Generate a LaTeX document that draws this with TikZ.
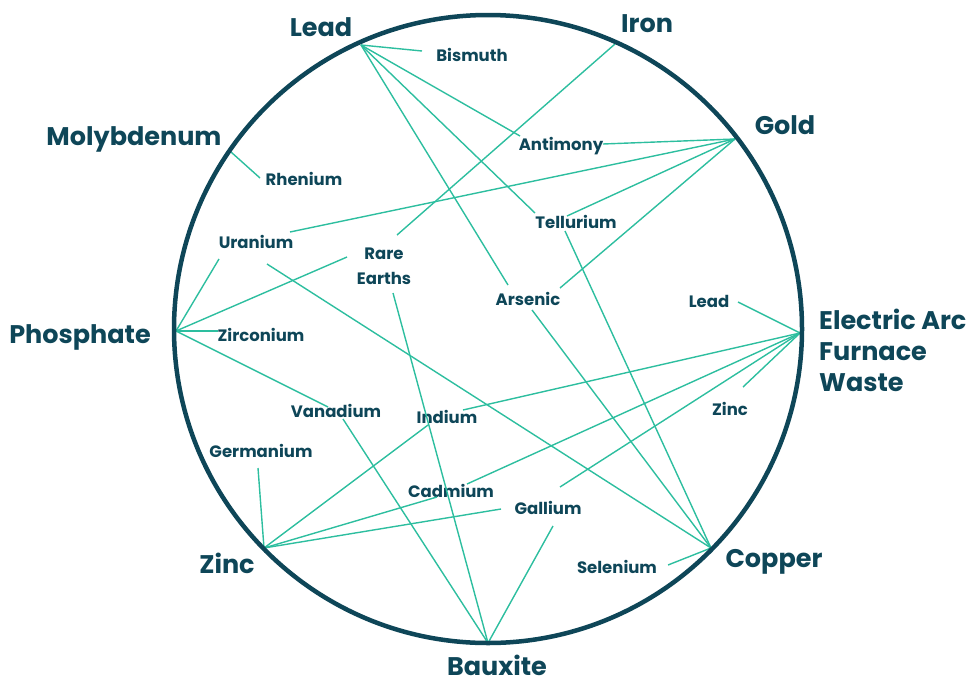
\documentclass[tikz,border=0pt]{standalone}
\usepackage{fontspec}
\setmainfont{Poppins}
\usetikzlibrary{calc}
\definecolor{darkc}{HTML}{0E4658}
\definecolor{linkc}{HTML}{2DBE9F}
\begin{document}
\begin{tikzpicture}[x=1pt,y=-1pt,
  hub/.style={font=\fontsize{25.5}{31}\selectfont\bfseries, text=darkc, inner sep=0pt, anchor=base},
  item/.style={font=\fontsize{16.5}{25}\selectfont\bfseries, text=darkc, inner sep=0pt, anchor=base},
  link/.style={draw=linkc, line width=1.4pt},
  ring/.style={draw=darkc, line width=4.5pt}]
\useasboundingbox (0,0) rectangle (966,683);

% hub points on the ring
\coordinate (pLead) at (361,45);
\coordinate (pIron) at (615,44);
\coordinate (pGold) at (735,139);
\coordinate (pEAF) at (800,333);
\coordinate (pCopper) at (711,548);
\coordinate (pBauxite) at (488,643);
\coordinate (pZinc) at (264,548);
\coordinate (pPhos) at (176,331);
\coordinate (pMoly) at (231,152);

% hub labels
\node[hub] (tLead) at (321,36) {Lead};
\node[hub] (tIron) at (647,32) {Iron};
\node[hub] (tGold) at (785,134) {Gold};
\node[hub] (tMoly) at (134,145) {Molybdenum};
\node[hub] (tPhos) at (80,343) {Phosphate};
\node[hub, anchor=west, align=left] (tEAF) at (819,350) {Electric Arc\\Furnace\\Waste};
\node[hub] (tCopper) at (774,567) {Copper};
\node[hub] (tBauxite) at (497,675) {Bauxite};
\node[hub] (tZinc) at (227,573) {Zinc};

% element labels
\node[item] (bismuth) at (472,61) {Bismuth};
\node[item] (rhenium) at (304,185) {Rhenium};
\node[item] (uranium) at (256,248) {Uranium};
\node[item, anchor=center, align=center] (rare) at (384,266) {Rare\\Earths};
\node[item] (zirconium) at (261,341) {Zirconium};
\node[item] (antimony) at (561,150) {Antimony};
\node[item] (tellurium) at (576,228) {Tellurium};
\node[item] (arsenic) at (528,305) {Arsenic};
\node[item] (leadS) at (709,307) {Lead};
\node[item] (zincS) at (730,415) {Zinc};
\node[item] (vanadium) at (336,417) {Vanadium};
\node[item] (indium) at (447,423) {Indium};
\node[item] (germanium) at (261,457) {Germanium};
\node[item] (cadmium) at (451,497) {Cadmium};
\node[item] (gallium) at (548,514) {Gallium};
\node[item] (selenium) at (617,573) {Selenium};

% connectors
\draw[link] (pLead) -- ($(bismuth.base)+(-50,-10)$);
\draw[link] (pLead) -- ($(antimony.base)+(-41,-14)$);
\draw[link] (pLead) -- ($(tellurium.base)+(-41,-15)$);
\draw[link] (pLead) -- ($(arsenic.base)+(-20,-20)$);
\draw[link] (pIron) -- ($(rare.center)+(13,-31)$);
\draw[link] (pGold) -- ($(antimony.base)+(42,-6)$);
\draw[link] (pGold) -- ($(uranium.base)+(34,-16)$);
\draw[link] (pGold) -- ($(tellurium.base)+(-9,-12)$);
\draw[link] (pGold) -- ($(arsenic.base)+(32,-17)$);
\draw[link] (pMoly) -- ($(rhenium.base)+(-44,-7)$);
\draw[link] (pPhos) -- ($(uranium.base)+(-37,11)$);
\draw[link] (pPhos) -- ($(rare.center)+(-37,-9)$);
\draw[link] (pPhos) -- ($(zirconium.base)+(-43,-10)$);
\draw[link] (pPhos) -- ($(vanadium.base)+(-8,-10)$);
\draw[link] ($(uranium.base)+(11,16)$) -- (pCopper);
\draw[link] ($(tellurium.base)+(-11,3)$) -- (pCopper);
\draw[link] ($(arsenic.base)+(4,5)$) -- (pCopper);
\draw[link] ($(selenium.base)+(51,-8)$) -- (pCopper);
\draw[link] ($(rare.center)+(9,27)$) -- (pBauxite);
\draw[link] ($(vanadium.base)+(7,2)$) -- (pBauxite);
\draw[link] ($(gallium.base)+(5,12)$) -- (pBauxite);
\draw[link] ($(indium.base)+(-19,2)$) -- (pZinc);
\draw[link] ($(germanium.base)+(-3,11)$) -- (pZinc);
\draw[link] ($(cadmium.base)+(-14,0)$) -- (pZinc);
\draw[link] ($(gallium.base)+(-47,-5)$) -- (pZinc);
\draw[link] (pEAF) -- ($(leadS.base)+(29,-5)$);
\draw[link] (pEAF) -- ($(zincS.base)+(13,-28)$);
\draw[link] (pEAF) -- ($(indium.base)+(16,-13)$);
\draw[link] (pEAF) -- ($(cadmium.base)+(16,-13)$);
\draw[link] (pEAF) -- ($(gallium.base)+(12,-27)$);

% ring
\draw[ring] (488,329) circle [radius=314pt];
\end{tikzpicture}
\end{document}
